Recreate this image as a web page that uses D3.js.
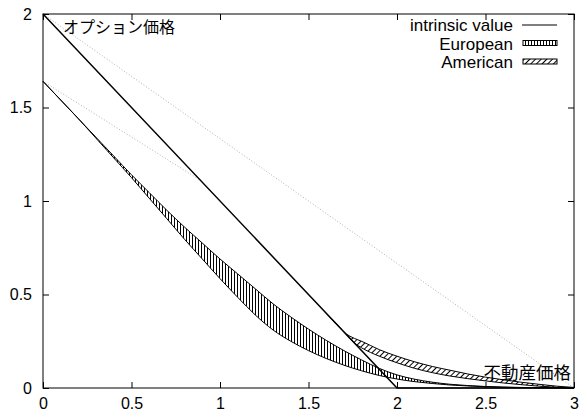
<!DOCTYPE html>
<html>
<head>
<meta charset="utf-8">
<script src="https://cdn.jsdelivr.net/npm/d3@7"></script>
<style>
  body { margin: 0; background: #fff; }
  svg text { font-family: "Liberation Sans", Arial, sans-serif; font-size: 16px; fill: #000; }
  .jp { font-family: "Noto Sans CJK JP", sans-serif; }
</style>
</head>
<body>
<svg id="chart" width="587" height="416"></svg>
<script>
// underlying price grid (0 .. 3 step 0.1)
const price = d3.range(0, 31).map(i => +(i * 0.1).toFixed(1));

// European band, upper and lower edge
const euroHi = [1.64, 1.54, 1.44, 1.34, 1.24, 1.14, 1.045, 0.95, 0.86, 0.775,
                0.69, 0.61, 0.53, 0.45, 0.38, 0.315, 0.255, 0.2, 0.15, 0.105,
                0.07, 0.047, 0.031, 0.02, 0.013, 0.008, 0.005, 0.003, 0.002, 0.001, 0];
const euroLo = [1.64, 1.54, 1.44, 1.335, 1.23, 1.125, 1.015, 0.905, 0.795, 0.69,
                0.585, 0.485, 0.39, 0.31, 0.25, 0.2, 0.158, 0.122, 0.092, 0.067,
                0.048, 0.034, 0.024, 0.016, 0.011, 0.007, 0.004, 0.002, 0.001, 0.0005, 0];

// American band (only where it leaves the intrinsic line)
const amerPrice = [1.6, 1.68, 1.7, 1.76, 1.8, 1.9, 2.0, 2.1, 2.2, 2.3, 2.4, 2.5, 2.6, 2.7, 2.8, 2.9, 3.0];
const amerHi = [0.40, 0.32, 0.30, 0.265, 0.25, 0.205, 0.17, 0.14, 0.115, 0.095, 0.075, 0.058, 0.044, 0.031, 0.02, 0.01, 0.003];
const amerLo = [0.40, 0.32, 0.30, 0.24, 0.215, 0.17, 0.135, 0.105, 0.082, 0.064, 0.05, 0.038, 0.027, 0.018, 0.01, 0.004, 0];

// intrinsic value max(2 - S, 0)
const intrinsicPrice = [0, 2, 3];
const intrinsicValue = [2, 0, 0];

// faint dotted guide lines
const guideA = {s: [0, 3], v: [2, 0]};
const guideB = {s: [0, 0.89], v: [1.64, 1.11]};

const xTicks = [0, 0.5, 1, 1.5, 2, 2.5, 3];
const yTicks = [0, 0.5, 1, 1.5, 2];
const legendNames = ["intrinsic value", "European", "American"];

const svg = d3.select("#chart");
const x = d3.scaleLinear().domain([0, 3]).range([43, 574]);
const y = d3.scaleLinear().domain([0, 2]).range([388, 14]);

// hatch patterns
let defs = svg.append("defs");
defs.append("pattern").attr("id", "vhatch").attr("patternUnits", "userSpaceOnUse")
    .attr("width", 3).attr("height", 10)
    .append("line").attr("x1", 0.5).attr("x2", 0.5).attr("y1", 0).attr("y2", 10)
    .attr("stroke", "#000").attr("stroke-width", 1);
defs.append("pattern").attr("id", "dhatch").attr("patternUnits", "userSpaceOnUse")
    .attr("width", 4).attr("height", 10).attr("patternTransform", "rotate(45)")
    .append("line").attr("x1", 0.5).attr("x2", 0.5).attr("y1", 0).attr("y2", 10)
    .attr("stroke", "#000").attr("stroke-width", 1);

let line = d3.line().x(d => x(d[0])).y(d => y(d[1]));
let zip = (a, b) => a.map((v, i) => [v, b[i]]);

// dotted guides
[guideA, guideB].forEach(g => {
    svg.append("path").attr("d", line(zip(g.s, g.v)))
        .attr("fill", "none").attr("stroke", "#b0b0b0").attr("stroke-width", 1)
        .attr("stroke-dasharray", "1,2");
});

// bands
let band = d3.area().x(d => x(d.s)).y0(d => y(d.lo)).y1(d => y(d.hi)).curve(d3.curveMonotoneX);
let edge = d3.line().x(d => x(d[0])).y(d => y(d[1])).curve(d3.curveMonotoneX);

let euroData = price.map((s, i) => ({s: s, lo: euroLo[i], hi: euroHi[i]}));
let amerData = amerPrice.map((s, i) => ({s: s, lo: amerLo[i], hi: amerHi[i]}));

svg.append("path").attr("d", band(euroData)).attr("fill", "url(#vhatch)");
svg.append("path").attr("d", band(amerData)).attr("fill", "url(#dhatch)");

[zip(price, euroHi), zip(price, euroLo), zip(amerPrice, amerHi), zip(amerPrice, amerLo)].forEach(pts => {
    svg.append("path").attr("d", edge(pts)).attr("fill", "none")
        .attr("stroke", "#000").attr("stroke-width", 1);
});

// intrinsic value
svg.append("path").attr("d", line(zip(intrinsicPrice, intrinsicValue)))
    .attr("fill", "none").attr("stroke", "#000").attr("stroke-width", 1.5);

// frame
svg.append("rect").attr("x", x(0)).attr("y", y(2))
    .attr("width", x(3) - x(0)).attr("height", y(0) - y(2))
    .attr("fill", "none").attr("stroke", "#000").attr("stroke-width", 1);

// axes with mirrored inward ticks
let fmt = d => d3.format("")(d);
svg.append("g").attr("transform", `translate(0,${y(0)})`)
    .call(d3.axisBottom(x).tickValues(xTicks).tickSize(-6).tickPadding(10).tickFormat(fmt))
    .call(g => g.select(".domain").remove());
svg.append("g").attr("transform", `translate(0,${y(2)})`)
    .call(d3.axisTop(x).tickValues(xTicks).tickSize(-6).tickFormat(""))
    .call(g => g.select(".domain").remove());
svg.append("g").attr("transform", `translate(${x(0)},0)`)
    .call(d3.axisLeft(y).tickValues(yTicks).tickSize(-6).tickPadding(11).tickFormat(fmt))
    .call(g => g.select(".domain").remove());
svg.append("g").attr("transform", `translate(${x(3)},0)`)
    .call(d3.axisRight(y).tickValues(yTicks).tickSize(-6).tickFormat(""))
    .call(g => g.select(".domain").remove());
svg.selectAll(".tick text").attr("font-size", 17).attr("font-family", "Liberation Sans, Arial, sans-serif").attr("fill", "#000");
svg.selectAll(".tick line").attr("stroke", "#000");

// axis captions
svg.append("text").attr("class", "jp").attr("x", 63).attr("y", 33).text("オプション価格");
svg.append("text").attr("class", "jp").attr("x", 571).attr("y", 379)
    .attr("text-anchor", "end").style("font-size", "17.5px").text("不動産価格");

// legend
let lg = svg.append("g");
legendNames.forEach((name, i) => {
    let ly = 25 + i * 18.5;
    lg.append("text").attr("x", 513).attr("y", ly + 6).attr("text-anchor", "end")
        .style("font-size", "17px").text(name);
    if (i === 0) {
        lg.append("line").attr("x1", 522).attr("x2", 557).attr("y1", ly).attr("y2", ly)
            .attr("stroke", "#000").attr("stroke-width", 1);
    } else {
        lg.append("rect").attr("x", 523).attr("y", ly - 3).attr("width", 34).attr("height", 5)
            .attr("fill", i === 1 ? "url(#vhatch)" : "url(#dhatch)")
            .attr("stroke", "#000").attr("stroke-width", 1);
    }
});
</script>
</body>
</html>
